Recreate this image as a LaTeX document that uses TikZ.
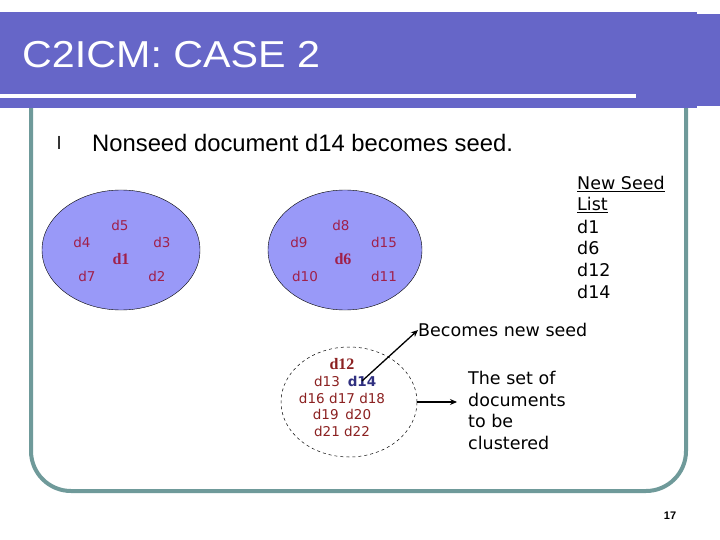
\documentclass[tikz,border=0pt]{standalone}
\usepackage{fontspec}
\setmainfont{Liberation Sans}
\newfontfamily\dv{DejaVu Sans}
\newfontfamily\ser{Liberation Serif}
\usetikzlibrary{arrows.meta,shapes.geometric}
\definecolor{bar}{HTML}{6666C8}
\definecolor{frm}{HTML}{6F9A9A}
\definecolor{blob}{HTML}{9999F8}
\definecolor{dred}{HTML}{A0204A}
\definecolor{dbr}{HTML}{8B2020}
\definecolor{dblue}{HTML}{303080}
\tikzset{
 dl/.style={font=\dv\fontsize{13.5}{15}\selectfont, text=dred, inner sep=0pt},
 dlb/.style={font=\ser\bfseries\fontsize{16}{17}\selectfont, text=dred, inner sep=0pt},
 dd/.style={font=\dv\fontsize{13.5}{15}\selectfont, text=dbr, inner sep=0pt},
 txt/.style={font=\dv\fontsize{17.5}{19}\selectfont, inner sep=0pt, anchor=west},
 arr/.style={-{Stealth[length=7pt,width=6pt]}, line width=1.3pt}
}
\begin{document}
\begin{tikzpicture}[x=1pt,y=-1pt]
\useasboundingbox (0,0) rectangle (720,540);
\fill[white] (0,0) rectangle (720,540);
% frame
\draw[frm, line width=4pt, rounded corners=40pt] (31,60) -- (31,491) -- (686,491) -- (686,60);
% title bar
\fill[bar] (0,12) rectangle (697,108);
\fill[bar] (697,14) rectangle (720,106);
\fill[white] (0,94) rectangle (636,98);
\node[anchor=west, text=white, font=\fontsize{37.5}{40}\selectfont, inner sep=0pt] (title) at (22,55) {\scalebox{1.1}[1]{C2ICM: CASE 2}};
% bullet
\node[anchor=west, inner sep=0pt, font=\fontsize{18}{20}\selectfont] (bul) at (57,143) {l};
\node[anchor=west, inner sep=0pt, font=\fontsize{23.8}{26}\selectfont] (head) at (92,143) {Nonseed document d14 becomes seed.};
% clusters
\node[draw=black, fill=blob, shape=ellipse, minimum width=158pt, minimum height=120pt] (c1) at (121,250) {};
\node[draw=black, fill=blob, shape=ellipse, minimum width=154pt, minimum height=120pt] (c2) at (345,250) {};
\node[dl] (d5) at (120,225) {d5};
\node[dl] (d4) at (82,242) {d4};
\node[dl] (d3) at (162,242) {d3};
\node[dlb] (d1) at (121,259) {d1};
\node[dl] (d7) at (87,276) {d7};
\node[dl] (d2) at (157,276) {d2};
\node[dl] (d8) at (341,225) {d8};
\node[dl] (d9) at (299,242) {d9};
\node[dl] (d15) at (384,242) {d15};
\node[dlb] (d6) at (343,259) {d6};
\node[dl] (d10) at (305,276) {d10};
\node[dl] (d11) at (384,276) {d11};
% new seed list
\node[txt] (ns) at (577,184) {\underline{New Seed}};
\node[txt] (nl) at (577,205) {\underline{List}};
\node[txt] (l1) at (577,227) {d1};
\node[txt] (l2) at (577,248) {d6};
\node[txt] (l3) at (577,270) {d12};
\node[txt] (l4) at (577,292) {d14};
% dashed cluster
\node[draw=black, dashed, shape=ellipse, minimum width=136pt, minimum height=110pt, line width=0.5pt] (c3) at (349,402) {};
\node[dlb, text=dbr] (d12) at (342,364) {d12};
\node[dd] (d13) at (327,381) {d13};
\node[dd, text=dblue, font=\dv\bfseries\fontsize{13.5}{15}\selectfont] (d14) at (362,381) {d14};
\node[dd] (r3) at (342,398) {d16\,\,d17 d18};
\node[dd] (r4) at (342,414) {d19\,\,\,d20};
\node[dd] (r5) at (342,431) {d21 d22};
\node[txt] (bns) at (418,330) {Becomes new seed};
\node[txt, align=left, anchor=north west, font=\dv\fontsize{17.5}{21.7}\selectfont] (set) at (468,371) {The set of\\documents\\to be\\clustered};
\draw[arr] (d14.center) -- (bns.west);
\draw[arr] (c3.east) -- (457,402);
\node[font=\bfseries\fontsize{11}{12}\selectfont, inner sep=0pt] (pg) at (670,516) {17};
\end{tikzpicture}
\end{document}
